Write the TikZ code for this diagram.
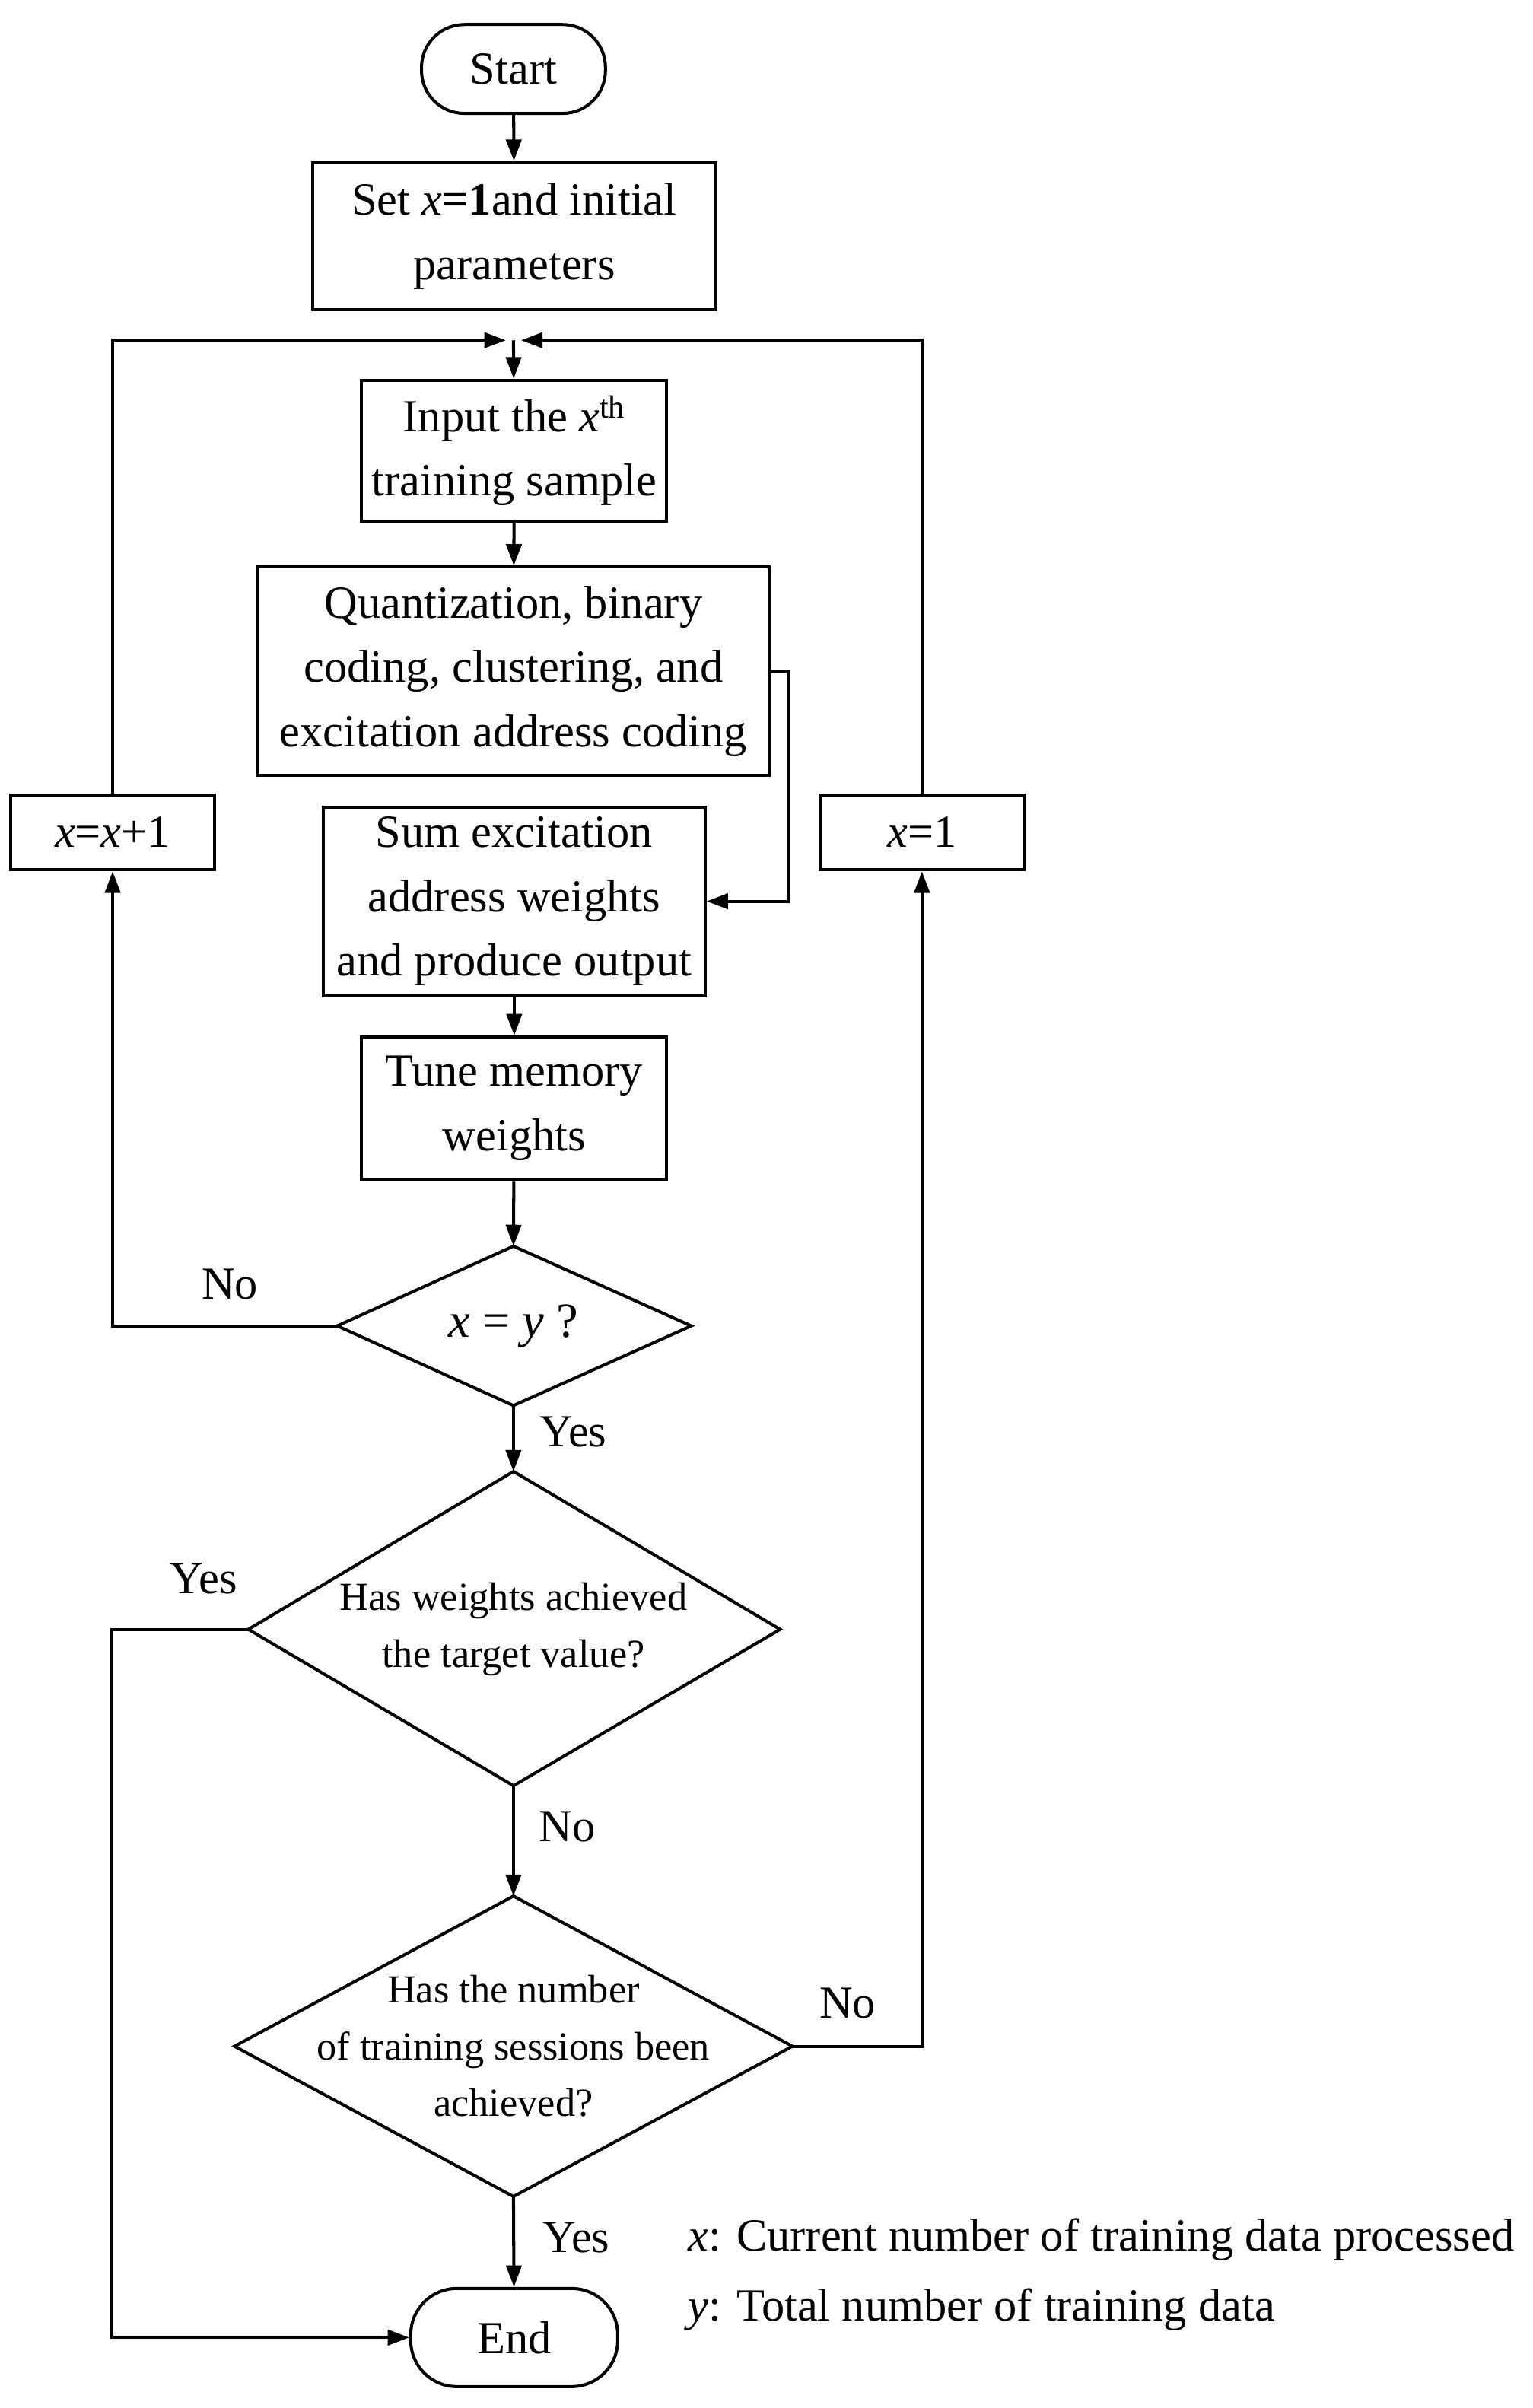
\documentclass[tikz,border=0pt]{standalone}
\usepackage{fontspec}
\setmainfont{Liberation Serif}
\usetikzlibrary{arrows.meta}
\begin{document}
\begin{tikzpicture}[x=1pt,y=-1pt,line width=2pt,
  box/.style={draw,align=center,font=\fontsize{30}{42}\selectfont,inner sep=0},
  lab/.style={font=\fontsize{30}{36}\selectfont,inner sep=0},
  dtx/.style={align=center,font=\fontsize{26}{37}\selectfont,inner sep=0},
  arr/.style={-{Triangle[length=14pt,width=10pt]}}]
\useasboundingbox (0,0) rectangle (1000,1571);
\node[box,rounded corners=28pt,minimum width=120,minimum height=58] (start) at (335,45) {Start};
\node[box,minimum width=263,minimum height=96] (set) at (335.5,154) {Set \textit{x}\textbf{=1}and initial\\parameters};
\node[box,minimum width=199,minimum height=92] (inp) at (335.5,294) {Input the \textit{x}\textsuperscript{th}\\training sample};
\node[box,minimum width=334,minimum height=136] (q) at (335,438) {Quantization, binary\\coding, clustering, and\\excitation address coding};
\node[box,minimum width=249,minimum height=123] (sum) at (335.5,588) {Sum excitation\\address weights\\and produce output};
\node[box,minimum width=199,minimum height=93] (tune) at (335.5,723) {Tune memory\\weights};
\node[box,minimum width=133,minimum height=49] (inc) at (73.5,543) {\textit{x}=\textit{x}+1};
\node[box,minimum width=133,minimum height=49] (one) at (601.5,543) {\textit{x}=1};
\node[box,rounded corners=30pt,minimum width=135,minimum height=64] (end) at (335.5,1525) {End};
\coordinate (j) at (335,222);
% diamonds
\coordinate (d1n) at (335,813); \coordinate (d1s) at (335,917);
\coordinate (d1w) at (220,865); \coordinate (d1e) at (451,865);
\draw (d1n)--(d1e)--(d1s)--(d1w)--cycle;
\node[dtx,font=\fontsize{32}{38}\selectfont] (d1) at (335,865) {\textit{x} = \textit{y} ?};
\coordinate (d2n) at (335,960); \coordinate (d2s) at (335,1165);
\coordinate (d2w) at (162,1063); \coordinate (d2e) at (509,1063);
\draw (d2n)--(d2e)--(d2s)--(d2w)--cycle;
\node[dtx] (d2) at (335,1063) {Has weights achieved\\the target value?};
\coordinate (d3n) at (335,1237); \coordinate (d3s) at (335,1433);
\coordinate (d3w) at (153,1335); \coordinate (d3e) at (517,1335);
\draw (d3n)--(d3e)--(d3s)--(d3w)--cycle;
\node[dtx] (d3) at (335,1335) {Has the number\\of training sessions been\\achieved?};
% connectors
\draw[arr] (start)--(set);
\draw[arr] (j)--(inp);
\draw[arr] (inp)--(q);
\draw[arr] (q.east) -- ++(11,0) |- (sum.east);
\draw[arr] (sum)--(tune);
\draw[arr] (tune)--(d1n);
\draw[arr] (d1s)--(d2n);
\draw[arr] (d2s)--(d3n);
\draw[arr] (d3s)--(end);
\draw[arr] (d1w) -| (inc.south);
\draw[arr] (inc.north) |- ([xshift=-5]j);
\draw[arr] (d3e) -| (one.south);
\draw[arr] (one.north) |- ([xshift=5]j);
\draw[arr] (d2w) -- (73,1063) |- (end.west);
% labels
\node[lab] at (150,838) {No};
\node[lab] at (374,934) {Yes};
\node[lab] at (133,1030) {Yes};
\node[lab] at (370,1192) {No};
\node[lab] at (553,1307) {No};
\node[lab] at (376,1460) {Yes};
\node[lab,anchor=west] at (448,1461) {\textit{x}: Current number of training data processed};
\node[lab,anchor=west] at (448,1507) {\textit{y}: Total number of training data};
\end{tikzpicture}
\end{document}
